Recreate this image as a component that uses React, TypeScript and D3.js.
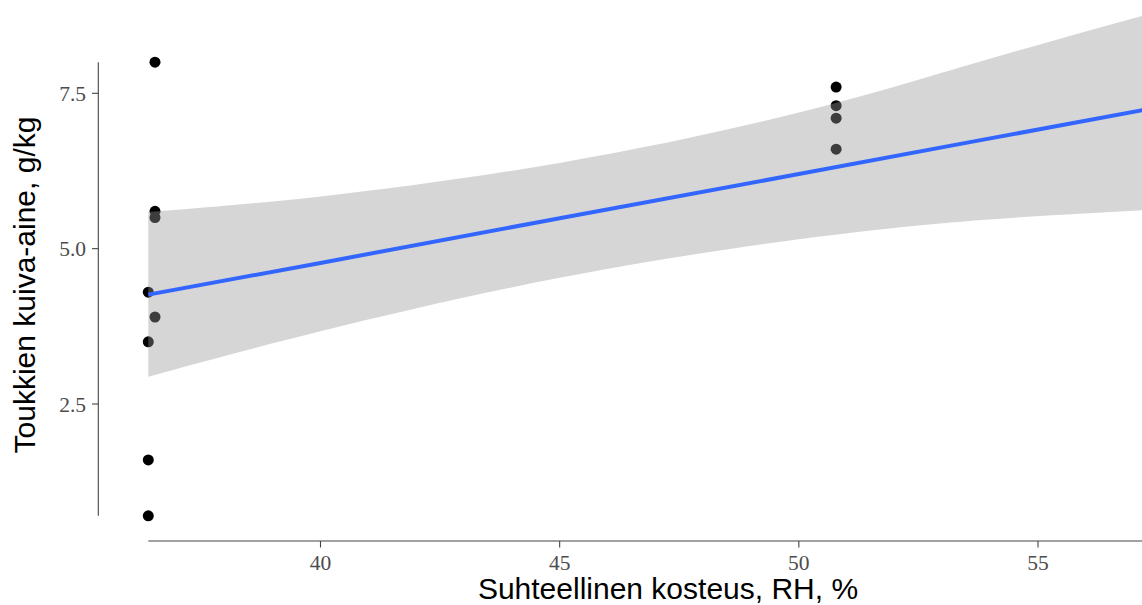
import React from "react";
import * as d3 from "d3";

// Observed points (Suhteellinen kosteus, RH % ; Toukkien kuiva-aine g/kg)
const pointX = [36.40, 36.40, 36.40, 36.40, 36.54, 36.54, 36.54, 36.54, 50.78, 50.78, 50.78, 50.78];
const pointY = [0.7, 1.6, 3.5, 4.3, 8.0, 5.6, 5.5, 3.9, 7.6, 7.3, 7.1, 6.6];

// Linear fit with confidence band
const smoothX = [36.40, 40, 45, 50, 53.83, 57.2];
const smoothFit = [4.26, 4.77, 5.49, 6.2, 6.75, 7.23];
const smoothLower = [2.94, 3.67, 4.53, 5.15, 5.46, 5.62];
const smoothUpper = [5.59, 5.84, 6.38, 7.19, 8.02, 8.75];

const xTicks = [40, 45, 50, 55];
const yTicks = [2.5, 5.0, 7.5];
const xTitle = "Suhteellinen kosteus, RH, %";
const yTitle = "Toukkien kuiva-aine, g/kg";

const W = 1142;
const H = 605;

export default function App() {
  const x = d3.scaleLinear().domain([40, 55]).range([320.5, 1038]);
  const y = d3.scaleLinear().domain([2.5, 7.5]).range([404, 93.3]);

  const idx = smoothX.map((_, i) => i);
  const area = d3
    .area<number>()
    .x((i) => x(smoothX[i]))
    .y0((i) => y(smoothLower[i]))
    .y1((i) => y(smoothUpper[i]))
    .curve(d3.curveNatural);
  const line = d3
    .line<number>()
    .x((i) => x(smoothX[i]))
    .y((i) => y(smoothFit[i]))
    .curve(d3.curveLinear);

  const xMin = d3.min(pointX) as number;
  const yMin = d3.min(pointY) as number;
  const yMax = d3.max(pointY) as number;
  const axisColor = "#444";
  const tickColor = "#4d4d4d";

  return (
    <svg
      width={W}
      height={H}
      style={{ position: "absolute", left: 0, top: 0, background: "#fff" }}
    >
      <defs>
        <clipPath id="clip">
          <rect x={0} y={0} width={W} height={H} />
        </clipPath>
      </defs>
      <g clipPath="url(#clip)">
        {pointX.map((px, i) => (
          <circle key={i} cx={x(px)} cy={y(pointY[i])} r={5.5} fill="#000" />
        ))}
        <path d={area(idx) || ""} fill="#999999" fillOpacity={0.4} />
        <path d={line(idx) || ""} fill="none" stroke="#3366FF" strokeWidth={4} />
      </g>

      {/* y axis */}
      <line x1={98.3} x2={98.3} y1={y(yMax)} y2={y(yMin)} stroke={axisColor} strokeWidth={1.1} />
      {yTicks.map((t) => (
        <g key={t}>
          <line x1={92} x2={98.3} y1={y(t)} y2={y(t)} stroke={axisColor} strokeWidth={1.1} />
          <text
            x={86}
            y={y(t)}
            dy="0.35em"
            textAnchor="end"
            fontFamily="'Liberation Serif', 'DejaVu Serif', serif"
            fontSize={21.5}
            fill={tickColor}
          >
            {t.toFixed(1)}
          </text>
        </g>
      ))}

      {/* x axis */}
      <line x1={x(xMin)} x2={W} y1={541} y2={541} stroke={axisColor} strokeWidth={1.1} />
      {xTicks.map((t) => (
        <g key={t}>
          <line x1={x(t)} x2={x(t)} y1={541} y2={547.5} stroke={axisColor} strokeWidth={1.1} />
          <text
            x={x(t)}
            y={570}
            textAnchor="middle"
            fontFamily="'Liberation Serif', 'DejaVu Serif', serif"
            fontSize={21.5}
            fill={tickColor}
          >
            {t}
          </text>
        </g>
      ))}

      <text
        x={668}
        y={599}
        textAnchor="middle"
        fontFamily="'Liberation Sans', Arial, sans-serif"
        fontSize={30}
        fill="#000"
      >
        {xTitle}
      </text>
      <text
        transform={`translate(35,285) rotate(-90)`}
        textAnchor="middle"
        fontFamily="'Liberation Sans', Arial, sans-serif"
        fontSize={30}
        fill="#000"
      >
        {yTitle}
      </text>
    </svg>
  );
}
